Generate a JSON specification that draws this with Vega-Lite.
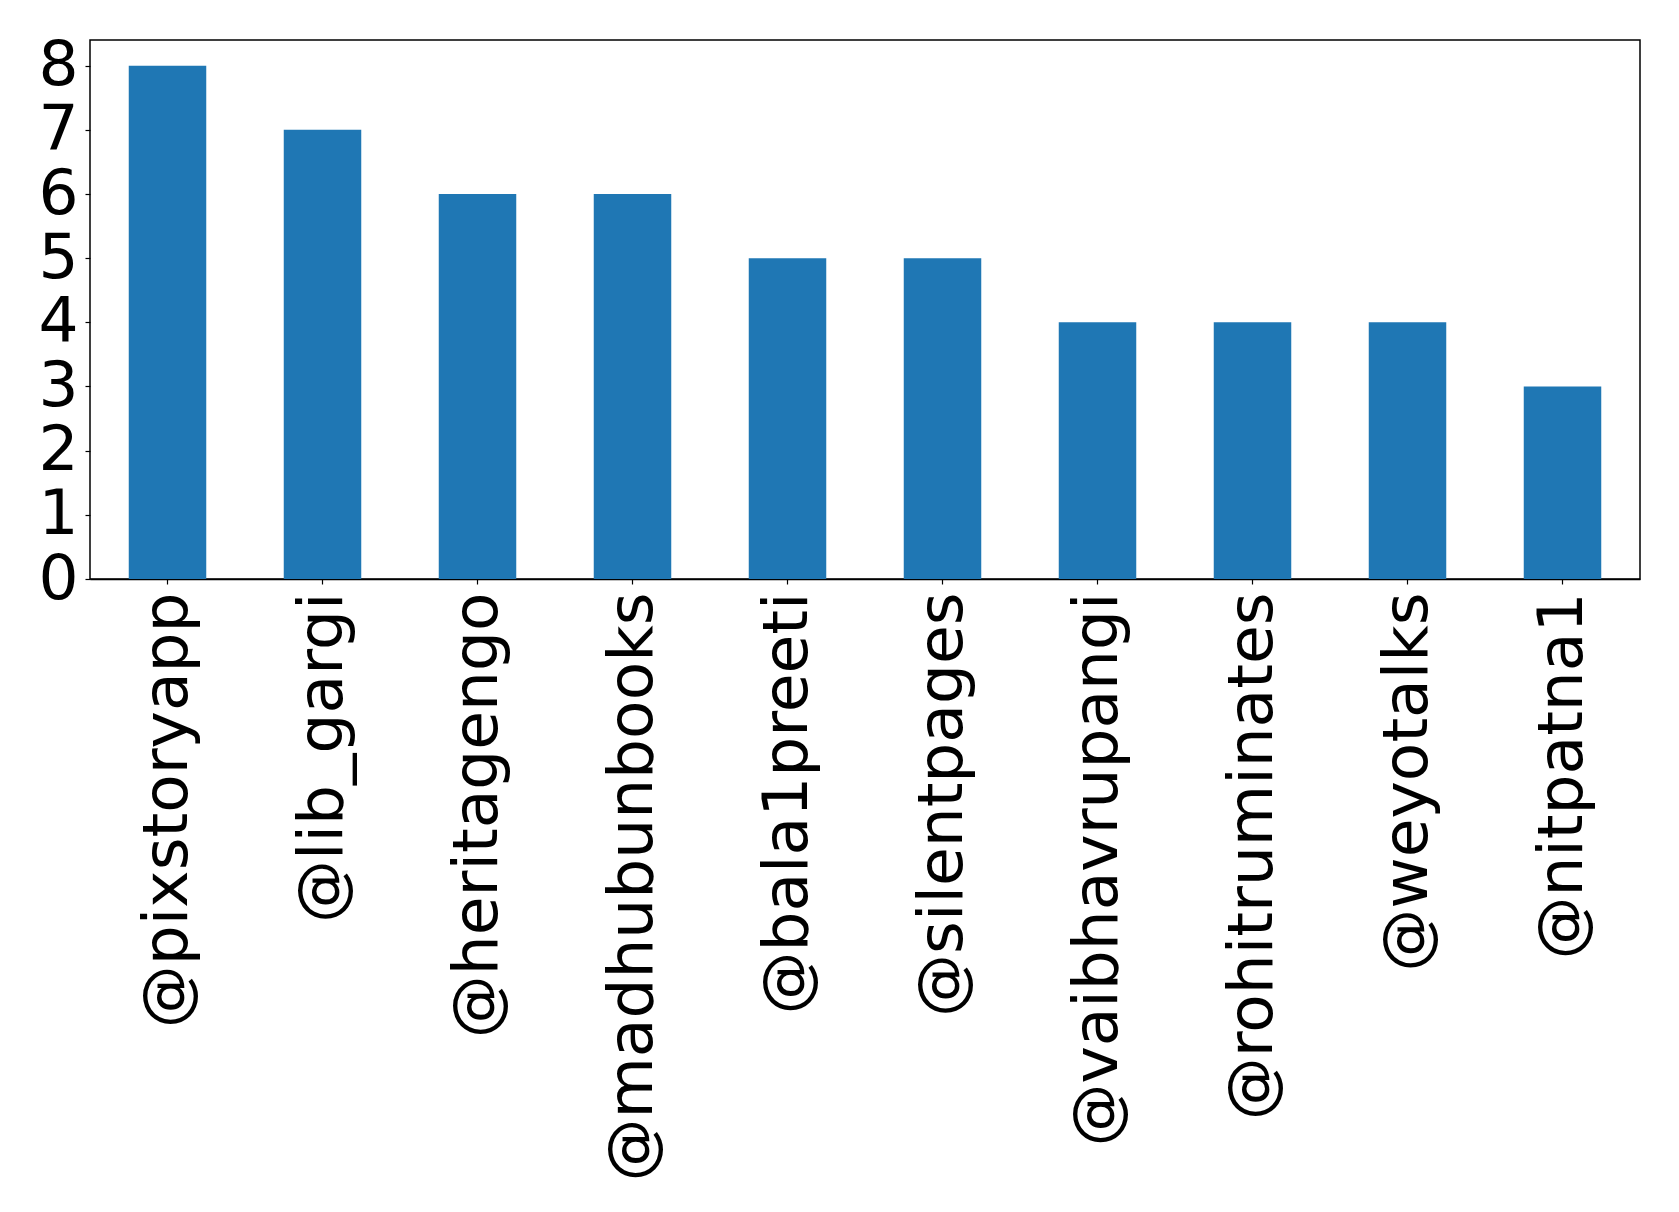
{
  "$schema": "https://vega.github.io/schema/vega-lite/v6.json",
  "autosize": {"type": "none"},
  "padding": {"left": 90, "top": 40, "right": 39, "bottom": 633},
  "width": 1550,
  "height": 539,
  "background": "white",
  "config": {
    "view": {"stroke": "black", "strokeWidth": 1.5},
    "axis": {
      "labelFont": "DejaVu Sans",
      "labelFontSize": 63,
      "labelColor": "black",
      "tickColor": "black",
      "domainColor": "black",
      "tickSize": 5,
      "tickWidth": 1.2,
      "domainWidth": 1.5,
      "grid": false,
      "title": null
    }
  },
  "data": {
    "values": [
      {"user": "@pixstoryapp", "count": 8},
      {"user": "@lib_gargi", "count": 7},
      {"user": "@heritagengo", "count": 6},
      {"user": "@madhubunbooks", "count": 6},
      {"user": "@bala1preeti", "count": 5},
      {"user": "@silentpages", "count": 5},
      {"user": "@vaibhavrupangi", "count": 4},
      {"user": "@rohitruminates", "count": 4},
      {"user": "@weyotalks", "count": 4},
      {"user": "@nitpatna1", "count": 3}
    ]
  },
  "mark": {"type": "bar", "color": "#1f77b4"},
  "encoding": {
    "x": {
      "field": "user",
      "type": "nominal",
      "sort": null,
      "scale": {"paddingInner": 0.5, "paddingOuter": 0.25},
      "axis": {"labelAngle": -90, "labelPadding": 8, "labelLimit": 0, "labelBaseline": "middle"}
    },
    "y": {
      "field": "count",
      "type": "quantitative",
      "scale": {"domain": [0, 8.4], "nice": false},
      "axis": {"values": [0, 1, 2, 3, 4, 5, 6, 7, 8], "labelPadding": 7, "domain": false}
    }
  }
}
